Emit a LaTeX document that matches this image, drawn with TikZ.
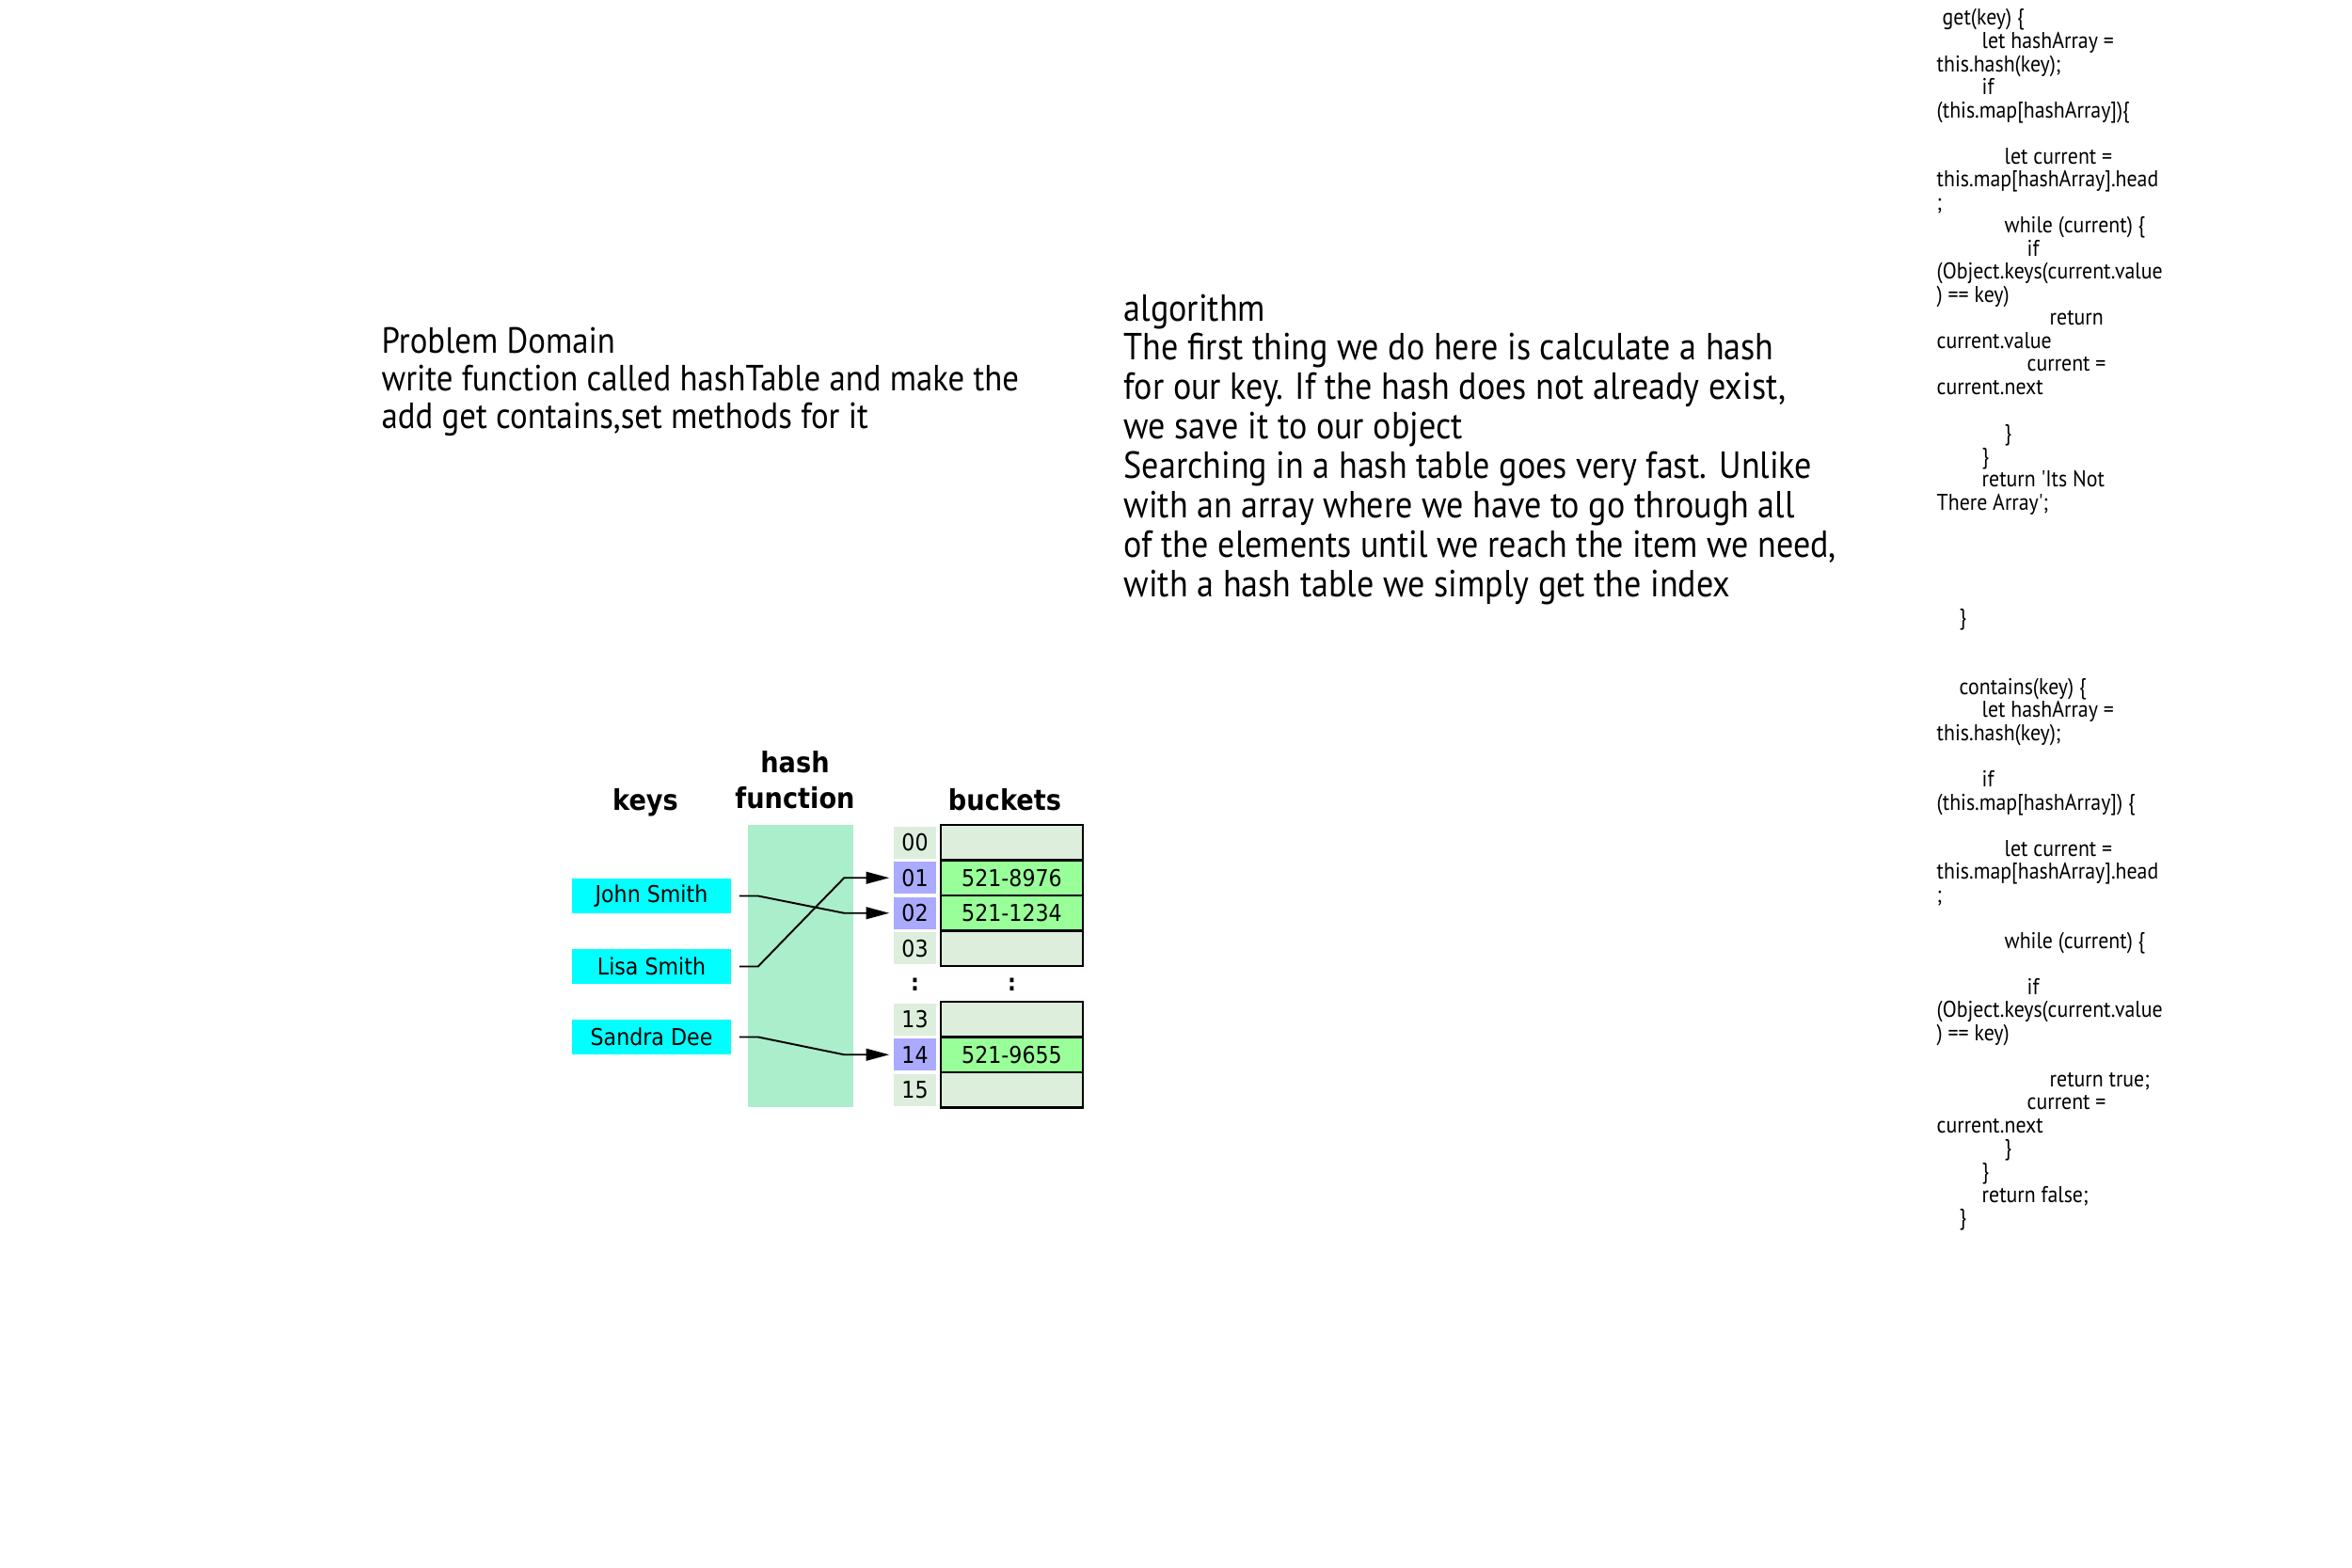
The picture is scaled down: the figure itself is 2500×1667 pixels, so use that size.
\documentclass[tikz,border=0pt]{standalone}
\usepackage{fontspec}
\usetikzlibrary{arrows.meta}

\newfontfamily\diagfont[FakeStretch=0.9]{DejaVu Sans}
\newfontfamily\handfont[FakeStretch=0.9]{PT Sans}

\definecolor{keycyan}{HTML}{00FFFF}
\definecolor{hashgreen}{HTML}{AAEECC}
\definecolor{slotfree}{HTML}{DDEEDD}
\definecolor{slotused}{HTML}{AAAAFF}
\definecolor{entrygreen}{HTML}{99FF99}

\tikzset{
  keybox/.style={fill=keycyan, minimum width=1.69cm, minimum height=0.37cm, inner sep=0pt,
    font=\diagfont\fontsize{7}{8}\selectfont},
  header/.style={font=\diagfont\bfseries\fontsize{8.6}{10.8}\selectfont, inner sep=0pt},
  slot/.style={minimum width=0.45cm, minimum height=0.335cm, inner sep=0pt,
    font=\diagfont\fontsize{7}{8}\selectfont},
  bucket/.style={draw=black, line width=0.6pt, minimum width=1.51cm, minimum height=0.375cm,
    inner sep=0pt, font=\diagfont\fontsize{7}{8}\selectfont},
  link/.style={line width=0.55pt, -{Triangle[length=7pt,width=3.6pt]}},
  prose/.style={align=left, inner sep=0pt, anchor=north west},
  codeline/.style={font=\handfont\fontsize{6.9}{7}\selectfont, inner sep=0pt, anchor=base west}
}

\begin{document}
\begin{tikzpicture}[x=0.01cm,y=-0.01cm]
  \useasboundingbox (0,0) rectangle (2500,1667);

  %% text blocks
  \node[prose, font=\handfont\fontsize{11}{11.4}\selectfont] (problem) at (405,347)
    {Problem Domain\\write function called hashTable and make the\\add get contains,set methods for it};
  \node[prose, font=\handfont\fontsize{11.4}{11.9}\selectfont] (algorithm) at (1194,312)
    {algorithm\\The first thing we do here is calculate a hash\\for our key. If the hash does not already exist,\\we save it to our object\\Searching in a hash table goes very fast. Unlike\\with an array where we have to go through all\\of the elements until we reach the item we need,\\with a hash table we simply get the index};

  %% hash table figure
  \node[header, anchor=base] (keys) at (686,861) {keys};
  \node[header, align=center, anchor=south] (hashhead) at (845,861) {hash\\function};
  \node[header, anchor=base] (buckets) at (1068,861) {buckets};

  \node[fill=hashgreen, minimum width=1.12cm, minimum height=3cm, inner sep=0pt] (hashfn) at (851,1027) {};

  \node[keybox] (john) at (692.5,952.5) {John Smith};
  \node[keybox] (lisa) at (692.5,1027.5) {Lisa Smith};
  \node[keybox] (sandra) at (692.5,1102.5) {Sandra Dee};

  \foreach \idx/\yy/\sc/\bc/\val in {00/895.75/slotfree/slotfree/{}, 01/933.25/slotused/entrygreen/521-8976,
      02/970.75/slotused/entrygreen/521-1234, 03/1008.25/slotfree/slotfree/{},
      13/1083.75/slotfree/slotfree/{}, 14/1121.25/slotused/entrygreen/521-9655, 15/1158.75/slotfree/slotfree/{}}{
    \node[slot, fill=\sc] (slot\idx) at (972.5,\yy) {\idx};
    \node[bucket, fill=\bc] (bucket\idx) at (1075.5,\yy) {\val};
  }
  \node[font=\diagfont\bfseries\fontsize{7}{8}\selectfont] (slotdots) at (972.5,1047) {:};
  \node[font=\diagfont\bfseries\fontsize{7}{8}\selectfont] (bucketdots) at (1075.5,1047) {:};

  \draw[link] ([xshift=0.08cm]john.east) -- ++(20,0) -- ([xshift=-0.52cm]slot02.west) -- ([xshift=-0.04cm]slot02.west);
  \draw[link] ([xshift=0.08cm]lisa.east) -- ++(20,0) -- ([xshift=-0.52cm]slot01.west) -- ([xshift=-0.04cm]slot01.west);
  \draw[link] ([xshift=0.08cm]sandra.east) -- ++(20,0) -- ([xshift=-0.52cm]slot14.west) -- ([xshift=-0.04cm]slot14.west);

  %% code column
  \foreach \n/\d/\txt in {0/0.25/{get(key) \{}, 1/2/{let hashArray =}, 2/0/{this.hash(key);}, 3/2/{if},
      4/0/{(this.map[hashArray])\{}, 6/3/{let current =}, 7/0/{this.map[hashArray].head}, 8/0/{;},
      9/3/{while (current) \{}, 10/4/{if}, 11/0/{(Object.keys(current.value}, 12/0/{) == key)},
      13/5/{return}, 14/0/{current.value}, 15/4/{current =}, 16/0/{current.next}, 18/3/{\}},
      19/2/{\}}, 20/2/{return 'Its Not}, 21/0/{There Array';}, 26/1/{\}},
      29/1/{contains(key) \{}, 30/2/{let hashArray =}, 31/0/{this.hash(key);}, 33/2/{if},
      34/0/{(this.map[hashArray]) \{}, 36/3/{let current =}, 37/0/{this.map[hashArray].head}, 38/0/{;},
      40/3/{while (current) \{}, 42/4/{if}, 43/0/{(Object.keys(current.value}, 44/0/{) == key)},
      46/5/{return true;}, 47/4/{current =}, 48/0/{current.next}, 49/3/{\}}, 50/2/{\}},
      51/2/{return false;}, 52/1/{\}}}{
    \node[codeline] (code\n) at ({2058+24*\d},{27+24.53*\n}) {\txt};
  }
\end{tikzpicture}
\end{document}
